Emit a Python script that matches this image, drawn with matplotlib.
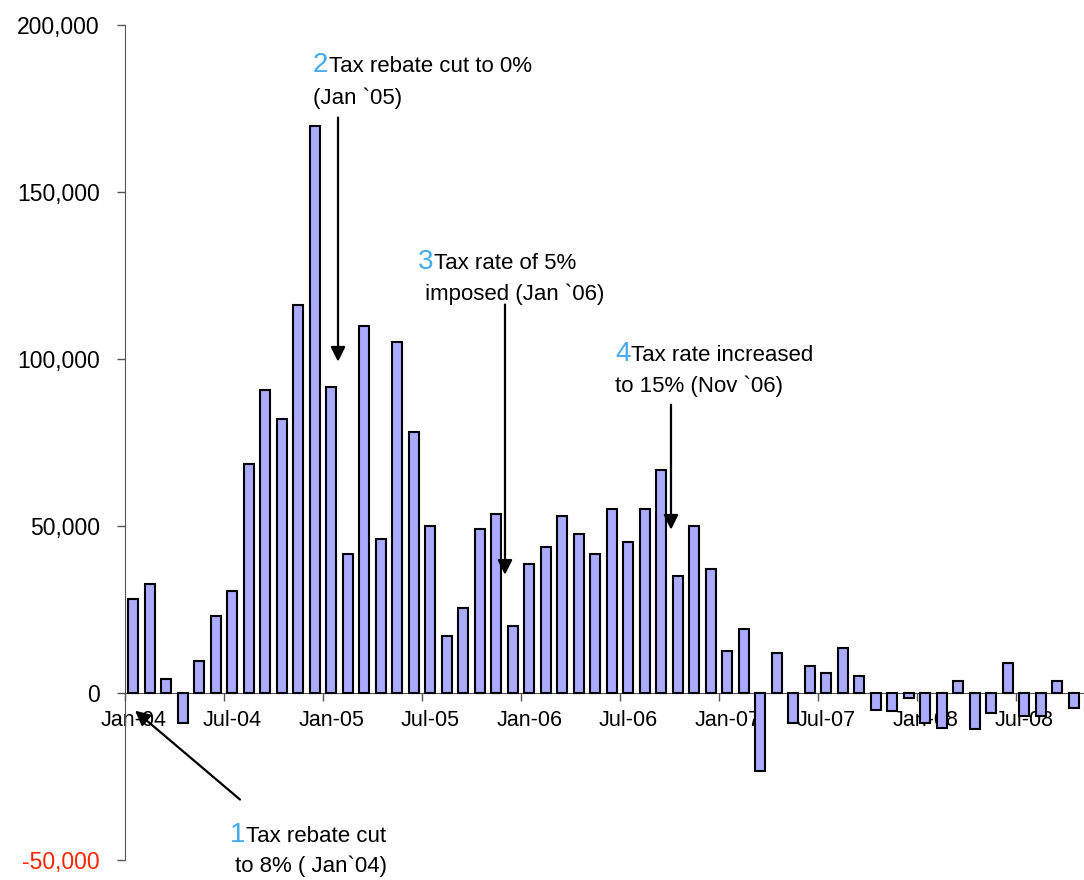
import matplotlib
matplotlib.use("Agg")
import matplotlib.pyplot as plt
from matplotlib.ticker import FuncFormatter, FixedLocator

plt.rcParams["font.family"] = ["Liberation Sans", "DejaVu Sans"]

# monthly values, Jan-04 .. Nov-08
months = [f"{m}-{y:02d}" for y in range(4, 9) for m in
          ["Jan", "Feb", "Mar", "Apr", "May", "Jun", "Jul", "Aug", "Sep", "Oct", "Nov", "Dec"]][:59]
values = [
    28200, 32700, 4300, -9000, 9700, 23000, 30600, 68500, 90800, 81900, 116200, 169800,
    91600, 41700, 110000, 46100, 105000, 78100, 49900, 17200, 25300, 49100, 53600, 20100,
    38700, 43800, 52900, 47600, 41700, 55000, 45300, 55000, 66800, 34900, 49900, 37100,
    12700, 19300, -23300, 11900, -9100, 8000, 6000, 13400, 5100, -5200, -5400, -1500,
    -9100, -10500, 3700, -10700, -6100, 8900, -6800, -6800, 3700, -4500, -5000,
]
label_every = 6
y_ticks = [-50000, 0, 50000, 100000, 150000, 200000]

notes = [
    ("1", "Tax rebate cut", "to 8% ( Jan`04)"),
    ("2", "Tax rebate cut to 0%", "(Jan `05)"),
    ("3", "Tax rate of 5%", " imposed (Jan `06)"),
    ("4", "Tax rate increased", "to 15% (Nov `06)"),
]
# (number x, line2 x, line1 y, line2 y) in data units
note_pos = [
    (5.86, 6.17, -44500, -53500),
    (10.89, 10.89, 186000, 176200),
    (17.26, 17.30, 127000, 117800),
    (29.2, 29.2, 99500, 90200),
]
# arrows: (tail x, tail y, head x, head y)
arrows = [
    (6.47, -31900, 0.11, -5300),
    (12.41, 172300, 12.41, 99200),
    (22.53, 116300, 22.53, 35400),
    (32.59, 86300, 32.59, 48900),
]

W, H = 1084, 880
fig = plt.figure(figsize=(W / 100, H / 100), dpi=100)
ax = fig.add_axes([125 / W, 20 / H, 59 * 16.5 / W, 835 / H])

x = list(range(len(values)))
ax.bar(x, values, width=0.62, color="#aaaaff", edgecolor="black", linewidth=1.5, zorder=3)

ax.set_xlim(-0.5, len(values) - 0.5)
ax.set_ylim(-50000, 200000)

for s in ["top", "right"]:
    ax.spines[s].set_visible(False)
ax.spines["bottom"].set_position(("data", 0))
ax.spines["bottom"].set_color("#555555")
ax.spines["left"].set_color("#555555")

ax.set_yticks(y_ticks)
ax.yaxis.set_major_formatter(FuncFormatter(lambda v, p: f"{int(v):,}"))
ax.tick_params(axis="y", length=6, width=1, color="#555555", pad=12, labelsize=16.5)

lab_pos = x[::label_every]
ax.xaxis.set_major_locator(FixedLocator(lab_pos))
ax.set_xticklabels([months[i] for i in lab_pos])
ax.xaxis.set_minor_locator(FixedLocator([i - 0.5 for i in lab_pos]))
ax.tick_params(axis="x", which="major", length=0, pad=12, labelsize=15.5)
ax.tick_params(axis="x", which="minor", length=6, width=1, color="#555555")

fig.canvas.draw()
for lab in ax.get_yticklabels():
    if lab.get_text().startswith(("-", "\u2212")):
        lab.set_color("#ff2200")

for (num, l1, l2), (nx, l2x, y1, y2) in zip(notes, note_pos):
    t = ax.text(nx, y1, num, color="#44aaee", fontsize=20, ha="left", va="baseline", clip_on=False)
    # first line continues right after the number, on the same baseline
    ax.annotate(l1, xy=(1, y1), xycoords=(t, "data"), xytext=(0.5, 0), textcoords="offset points",
                color="black", fontsize=16, ha="left", va="baseline", annotation_clip=False)
    ax.text(l2x, y2, l2, color="black", fontsize=16, ha="left", va="baseline", clip_on=False)

for x0, y0, x1, y1 in arrows:
    ax.annotate("", xy=(x1, y1), xytext=(x0, y0), annotation_clip=False,
                arrowprops=dict(arrowstyle="-|>", color="black", lw=1.6,
                                mutation_scale=22, shrinkA=0, shrinkB=0))

fig.savefig("out.png", dpi=100)
